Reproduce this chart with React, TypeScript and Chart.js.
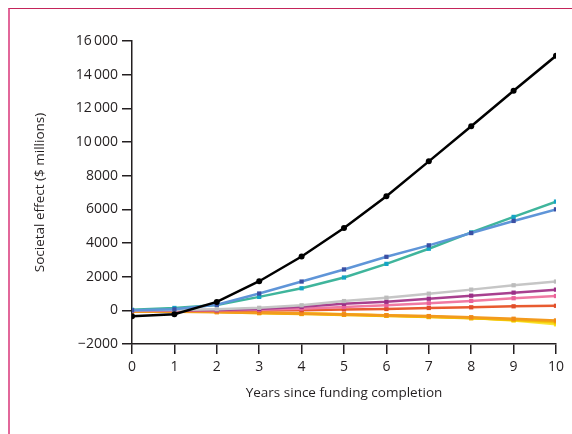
import React, { useEffect, useRef } from "react";
import { Chart, registerables } from "chart.js";

Chart.register(...registerables);

const years = [0, 1, 2, 3, 4, 5, 6, 7, 8, 9, 10];
const yTicks = [-2000, 0, 2000, 4000, 6000, 8000, 10000, 12000, 14000, 16000];

const blackSeries = [-350, -230, 500, 1730, 3200, 4890, 6780, 8850, 10940, 13040, 15120];
const blueSeries = [0, 60, 330, 1000, 1710, 2430, 3180, 3860, 4590, 5310, 6000];
const tealSeries = [30, 140, 320, 800, 1310, 1950, 2760, 3660, 4630, 5550, 6460];
const graySeries = [0, 20, 60, 150, 300, 550, 750, 990, 1230, 1490, 1710];
const purpleSeries = [0, 0, 20, 80, 210, 390, 510, 690, 870, 1050, 1230];
const pinkSeries = [0, 0, 10, 40, 100, 200, 300, 420, 560, 720, 850];
const redSeries = [-30, -20, -10, 0, 10, 50, 80, 140, 180, 240, 270];
const orangeSeries = [-90, -90, -110, -150, -190, -240, -290, -340, -410, -500, -600];
const goldSeries = [0, -30, -100, -170, -220, -270, -330, -400, -470, -560, -650];
const yellowSeries = [0, -20, -80, -140, -190, -250, -310, -380, -460, -580, -720];
const lightYellowSeries = [0, -10, -60, -120, -180, -240, -300, -370, -450, -600, -830];

const FONT = "'Open Sans', sans-serif";
const TEXT = "#231f20";

function fmt(v: number): string {
  const a = Math.abs(v);
  let s = String(a);
  if (a >= 10000) s = s.slice(0, s.length - 3) + "\u2009" + s.slice(s.length - 3);
  return (v < 0 ? "\u2212" : "") + s;
}

function line(data: number[], color: string, marker: string, style: string, radius: number, width: number) {
  return {
    data: years.map((x, i) => ({ x, y: data[i] })),
    borderColor: color,
    backgroundColor: marker,
    pointBackgroundColor: marker,
    pointBorderColor: marker,
    pointBorderWidth: 0,
    pointStyle: style,
    pointRadius: radius,
    borderWidth: width,
    tension: 0,
  };
}

export default function App() {
  const ref = useRef<HTMLCanvasElement>(null);
  useEffect(() => {
    if (!ref.current) return;
    const chart = new Chart(ref.current, {
      type: "line",
      data: {
        datasets: [
          line(blackSeries, "#000000", "#000000", "circle", 3, 2.5),
          line(blueSeries, "#5f95d8", "#3b4fa3", "rect", 3, 2.5),
          line(tealSeries, "#3fb59c", "#14a4c6", "rect", 3, 2.5),
          line(graySeries, "#c6c6c6", "#bcbcbc", "rect", 3, 2.5),
          line(purpleSeries, "#a8408f", "#9a2f87", "rect", 3, 2.5),
          line(pinkSeries, "#f07aa3", "#ea629b", "rect", 3, 2.5),
          line(redSeries, "#e85b30", "#e04e2b", "rect", 3, 2.5),
          line(orangeSeries, "#f39a1e", "#f08a18", "rect", 3, 2.5),
          line(goldSeries, "#f2b705", "#f0b000", "rect", 3, 2.5),
          line(yellowSeries, "#f6cf10", "#f5c800", "rect", 3, 2.5),
          line(lightYellowSeries, "#f9e636", "#f8e01c", "rect", 3, 2.5),
        ] as any,
      },
      options: {
        animation: false,
        responsive: false,
        layout: { padding: { left: 32, right: 16, top: 41, bottom: 20 } },
        plugins: { legend: { display: false }, tooltip: { enabled: false } },
        scales: {
          x: {
            type: "linear",
            min: 0,
            max: 10,
            afterFit: (s: any) => { s.height = 70; },
            ticks: { stepSize: 1, color: TEXT, font: { family: FONT, size: 14 }, padding: 5 },
            grid: { display: true, drawOnChartArea: false, drawTicks: true, tickLength: 10, color: TEXT, lineWidth: 1.5 },
            border: { display: true, color: TEXT, width: 1.5 },
            title: { display: true, text: "Years since funding completion", color: TEXT, font: { family: FONT, size: 13.5 }, padding: { top: 0, bottom: 13 } },
          },
          y: {
            type: "linear",
            min: -2000,
            max: 16000,
            afterFit: (s: any) => { s.width = 100; },
            afterBuildTicks: (s: any) => { s.ticks = yTicks.map((v) => ({ value: v })); },
            ticks: { color: TEXT, font: { family: FONT, size: 14 }, padding: 4, callback: (v: any) => fmt(Number(v)) },
            grid: { display: true, drawOnChartArea: false, drawTicks: true, tickLength: 10, color: TEXT, lineWidth: 1.5 },
            border: { display: true, color: TEXT, width: 1.5 },
            title: { display: true, text: "Societal effect ($ millions)", color: TEXT, font: { family: FONT, size: 13.5 }, padding: { top: 0, bottom: 0 } },
          },
        },
      } as any,
    });
    return () => chart.destroy();
  }, []);
  return (
    <div>
      <div
        style={{
          position: "absolute",
          left: 8,
          top: 8,
          right: 0,
          bottom: 0,
          borderTop: "1.5px solid #c4245a",
          borderLeft: "2px solid #e2679a",
        }}
      />
      <canvas ref={ref} width={572} height={434} style={{ position: "absolute", left: 0, top: 0 }} />
    </div>
  );
}
